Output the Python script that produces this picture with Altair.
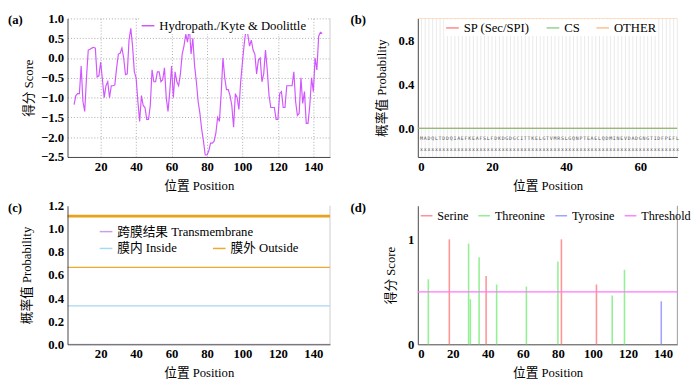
import altair as alt
import pandas as pd

FONT = "Liberation Serif, Noto Sans CJK SC, serif"
W_L, W_R, H = 269, 266, 142

# ---------------- (a) hydropathy ----------------
A_POS = list(range(5, 146))
A_SCORE = [
    -1.18, -0.95, -0.90, -0.90, -0.20, -1.10, -1.35, -0.50, 0.20, 0.22,
    0.25, 0.27, 0.25, -0.48, -0.45, -0.10, -0.55, -1.00, -0.70, -0.60,
    -1.00, -0.70, -0.70, -0.68, -0.25, 0.10, 0.12, 0.25, 0.00, -0.42,
    -0.40, 0.45, 0.75, 0.30, -0.35, -0.50, -1.10, -1.60, -0.95, -1.20,
    -1.25, -1.55, -1.55, -1.20, -0.30, -0.60, -0.60, -0.35, -0.35, -0.60,
    -0.55, -0.25, -1.00, -1.35, -0.85, -0.20, -1.00, -0.35, -0.60, -0.70,
    -0.40, 0.10, 0.30, 0.60, 0.40, 0.80, 0.10, 0.50, -0.20, -0.60,
    -1.10, -1.40, -1.80, -2.10, -2.45, -2.45, -2.35, -2.15, -2.15, -2.10,
    -1.90, -1.50, -1.60, -0.90, 0.00, -0.50, -0.80, -0.80, -0.95, -1.20,
    -1.75, -0.90, -1.00, -1.30, -0.60, -0.10, 0.35, 0.72, 0.60, 0.30,
    0.45, 0.20, 0.10, -0.40, -0.05, 0.00, -0.60, -0.40, 0.20, -0.30,
    -0.95, -1.25, -1.25, -1.25, -1.55, -1.55, -0.90, -0.85, -1.25, -1.25,
    -0.70, -0.70, -0.70, -0.70, -0.35, -1.10, -1.45, -1.40, -0.50, -1.15,
    -0.85, -1.65, -1.65, -1.20, -0.50, -0.85, 0.00, -0.30, 0.55, 0.65,
    0.62,
]
A_SERIES = "Hydropath./Kyte & Doolittle"
A_XTICKS = [20, 40, 60, 80, 100, 120, 140]
A_YTICKS = [1.0, 0.5, 0.0, -0.5, -1.0, -1.5, -2.0, -2.5]

# ---------------- (b) signal peptide ----------------
B_SEQ = "MADQLTDDQIAEFKEAFSLFDKDGDGCITTKELGTVMRSLGQNPTEAELQDMINEVDADGNGTIDFPEFL"
B_PRED = "xxxxxxxxxxxxxxxxxxxxxxxxxxxxxxxxxxxxxxxxxxxxxxxxxxxxxxxxxxxxxxxxxxxxxx"
B_POS = list(range(0, 71))
B_SP = [0.0] * 71
B_CS = [0.0] * 71
B_OTHER = [1.0] * 71
B_NAMES = ["SP (Sec/SPI)", "CS", "OTHER"]
B_COLORS = ["#ff6b6b", "#77c877", "#ffb070"]
B_XTICKS = [0, 20, 40, 60]
B_YTICKS = [0.0, 0.4, 0.8]

# ---------------- (c) transmembrane ----------------
C_POS = list(range(1, 151))
C_TM = [0.0] * 150
C_IN = [0.333] * 150
C_OUT = [0.667] * 150
C_TOPO = [1.11] * 150
C_YTICKS = [0.0, 0.2, 0.4, 0.6, 0.8, 1.0, 1.2]

# ---------------- (d) phosphorylation ----------------
D_POS = [6, 18, 29, 30, 35, 39, 45, 62, 80, 82, 102, 111, 118, 139]
D_RES = ["Threonine", "Serine", "Threonine", "Threonine", "Threonine", "Serine",
         "Threonine", "Threonine", "Threonine", "Serine", "Serine", "Threonine",
         "Threonine", "Tyrosine"]
D_SCORE = [0.62, 1.0, 0.96, 0.43, 0.83, 0.65, 0.57, 0.55, 0.79, 1.0, 0.57, 0.465, 0.71, 0.41]
D_THRESHOLD = 0.5
D_TYPES = ["Serine", "Threonine", "Tyrosine", "Threshold"]
D_COLORS = ["#ff8888", "#88ee88", "#9a9aff", "#ff77ff"]
D_XTICKS = [0, 20, 40, 60, 80, 100, 120, 140]


def panel_label(txt, x):
    return alt.Chart(alt.Data(values=[{"t": txt}])).mark_text(
        align="left", baseline="middle", font=FONT, fontSize=13, fontWeight="bold"
    ).encode(x=alt.value(x), y=alt.value(2), text="t:N")


def right_border(w, color):
    return alt.Chart(alt.Data(values=[{"k": 1}])).mark_rule(color=color, strokeWidth=1).encode(
        x=alt.value(w), y=alt.value(0), y2=alt.value(H)
    )


def legend(x, y, **kw):
    base = dict(orient="none", legendX=x, legendY=y, symbolType="stroke",
                symbolSize=169, symbolStrokeWidth=1.5, labelOffset=4,
                labelFont=FONT, labelFontSize=13, labelColor="#000", padding=1)
    base.update(kw)
    return alt.Legend(**base)


# ---- panel a
dfa = pd.DataFrame({"pos": A_POS, "score": A_SCORE, "series": A_SERIES})
xa = alt.X("pos:Q", scale=alt.Scale(domain=[1.3, 149.4], nice=False, zero=False),
           axis=alt.Axis(values=A_XTICKS, format="d", title="位置 Position", grid=True,
                         gridDash=[1, 2], gridColor="#aaa", titlePadding=6))
ya = alt.Y("score:Q", scale=alt.Scale(domain=[-2.5, 1.0], nice=False),
           axis=alt.Axis(values=A_YTICKS, format=".1f", title="得分 Score", grid=True,
                         gridDash=[1, 2], gridColor="#aaa", titlePadding=5))
a_line = alt.Chart(dfa).mark_line(strokeWidth=1.2, opacity=0.9).encode(
    x=xa, y=ya,
    color=alt.Color("series:N", title=None, scale=alt.Scale(range=["#cc44ff"]),
                    legend=legend(74, -1, fillColor="white")),
)
panel_a = alt.layer(right_border(W_L, "#ccc"), a_line, panel_label("(a)", -61)).properties(
    width=W_L, height=H)

# ---- panel b
xb_scale = alt.Scale(domain=[0, 70], nice=False, zero=False)
yb_scale = alt.Scale(domain=[-0.26, 1.0], nice=False)
xb = alt.X("pos:Q", scale=xb_scale,
           axis=alt.Axis(values=B_XTICKS, format="d", title="位置 Position", titlePadding=6))
b_grid = alt.Chart(pd.DataFrame({"pos": B_POS[1:]})).mark_rule(
    color="#e4e4e4", strokeWidth=0.8).encode(x=alt.X("pos:Q", scale=xb_scale))
seq_df = pd.DataFrame({"pos": B_POS[1:], "aa": list(B_SEQ), "pred": list(B_PRED)})
b_seq = alt.Chart(seq_df).mark_text(font="DejaVu Sans Mono", fontSize=5, color="#555").encode(
    x=alt.X("pos:Q", scale=xb_scale), y=alt.datum(-0.085, scale=yb_scale), text="aa:N")
b_pred = alt.Chart(seq_df).mark_text(font="DejaVu Sans Mono", fontSize=5, color="#555").encode(
    x=alt.X("pos:Q", scale=xb_scale), y=alt.datum(-0.185, scale=yb_scale), text="pred:N")
dfb = pd.concat([
    pd.DataFrame({"pos": B_POS, "p": B_OTHER, "series": B_NAMES[2]}),
    pd.DataFrame({"pos": B_POS, "p": B_SP, "series": B_NAMES[0]}),
    pd.DataFrame({"pos": B_POS, "p": B_CS, "series": B_NAMES[1]}),
])
b_lines = alt.Chart(dfb).mark_line(strokeWidth=1.2, opacity=0.8, clip=True).encode(
    x=xb,
    y=alt.Y("p:Q", scale=yb_scale,
            axis=alt.Axis(values=B_YTICKS, format=".1f", title="概率值 Probability", titlePadding=10)),
    color=alt.Color("series:N", title=None,
                    scale=alt.Scale(domain=B_NAMES, range=B_COLORS),
                    legend=legend(27, 1, direction="horizontal", columnPadding=14, fillColor="white")),
    detail="series:N",
)
panel_b = alt.layer(b_grid, b_seq, b_pred, b_lines, panel_label("(b)", -69)).properties(
    width=W_R, height=H)

# ---- panel c
xc_scale = alt.Scale(domain=[1.3, 149.4], nice=False, zero=False)
yc_scale = alt.Scale(domain=[0, 1.2], nice=False)
xc = alt.X("pos:Q", scale=xc_scale,
           axis=alt.Axis(values=A_XTICKS, format="d", title="位置 Position", titlePadding=6, zindex=1))
yc = alt.Y("p:Q", scale=yc_scale,
           axis=alt.Axis(values=C_YTICKS, format=".1f", title="概率值 Probability", titlePadding=15, zindex=1))
c_topo = alt.Chart(pd.DataFrame({"pos": C_POS, "p": C_TOPO})).mark_line(
    color="#eba21a", strokeWidth=3, clip=True).encode(x=xc, y=yc)
dfc_io = pd.concat([
    pd.DataFrame({"pos": C_POS, "p": C_IN, "series": "膜内 Inside"}),
    pd.DataFrame({"pos": C_POS, "p": C_OUT, "series": "膜外 Outside"}),
])
c_io = alt.Chart(dfc_io).mark_line(strokeWidth=1.3, clip=True).encode(
    x=xc, y=yc,
    color=alt.Color("series:N", title=None,
                    scale=alt.Scale(domain=["膜内 Inside", "膜外 Outside"], range=["#a8d8f2", "#f0a830"]),
                    legend=legend(31, 35, direction="horizontal", columnPadding=33)),
    detail="series:N",
)
c_tm = alt.Chart(pd.DataFrame({"pos": C_POS, "p": C_TM, "series": "跨膜结果 Transmembrane"})).mark_line(
    strokeWidth=1, clip=True).encode(
    x=xc, y=yc,
    color=alt.Color("series:N", title=None,
                    scale=alt.Scale(domain=["跨膜结果 Transmembrane"], range=["#c8a0e8"]),
                    legend=legend(31, 18)),
)
panel_c = alt.layer(right_border(W_L, "#ccc"), c_tm, c_io, c_topo, panel_label("(c)", -61)).resolve_scale(
    color="independent").properties(width=W_L, height=H)

# ---- panel d
xd_scale = alt.Scale(domain=[0, 148.2], nice=False, zero=False)
yd_scale = alt.Scale(domain=[0, 1.32], nice=False)
dfd = pd.DataFrame({"pos": D_POS, "score": D_SCORE, "residue": D_RES})
cd = alt.Color("residue:N", title=None, scale=alt.Scale(domain=D_TYPES, range=D_COLORS),
               legend=legend(1, 2, direction="horizontal", columnPadding=7, labelFontSize=12.5,
                             symbolSize=144))
d_bars = alt.Chart(dfd).mark_rule(strokeWidth=1.6, opacity=0.9).encode(
    x=alt.X("pos:Q", scale=xd_scale,
            axis=alt.Axis(values=D_XTICKS, format="d", title="位置 Position", titlePadding=6)),
    y=alt.Y("score:Q", scale=yd_scale,
            axis=alt.Axis(values=[0, 1], format="d", title="得分 Score", titlePadding=10)),
    y2=alt.datum(0),
    color=cd,
)
d_thr = alt.Chart(pd.DataFrame({"residue": ["Threshold"], "score": [D_THRESHOLD]})).mark_rule(
    strokeWidth=1.3).encode(y=alt.Y("score:Q", scale=yd_scale), color=cd)
panel_d = alt.layer(right_border(W_R, "#999"), d_bars, d_thr, panel_label("(d)", -69)).properties(
    width=W_R, height=H)

top = alt.hconcat(panel_a, panel_b, spacing=20).resolve_scale(color="independent")
bottom = alt.hconcat(panel_c, panel_d, spacing=20).resolve_scale(color="independent")
chart = alt.vconcat(top, bottom, spacing=8).resolve_scale(color="independent").properties(
    padding=0
).configure_view(stroke=None).configure_axis(
    labelFont=FONT, labelFontSize=13, labelFontWeight="bold", labelColor="#000",
    titleFont=FONT, titleFontSize=13, titleFontWeight="normal", titleColor="#000",
    domainColor="#444", ticks=False, labelPadding=4, grid=False,
).configure_legend(labelFont=FONT, labelColor="#000")

chart.save("out.html", embed_options={"renderer": "svg", "actions": False})
